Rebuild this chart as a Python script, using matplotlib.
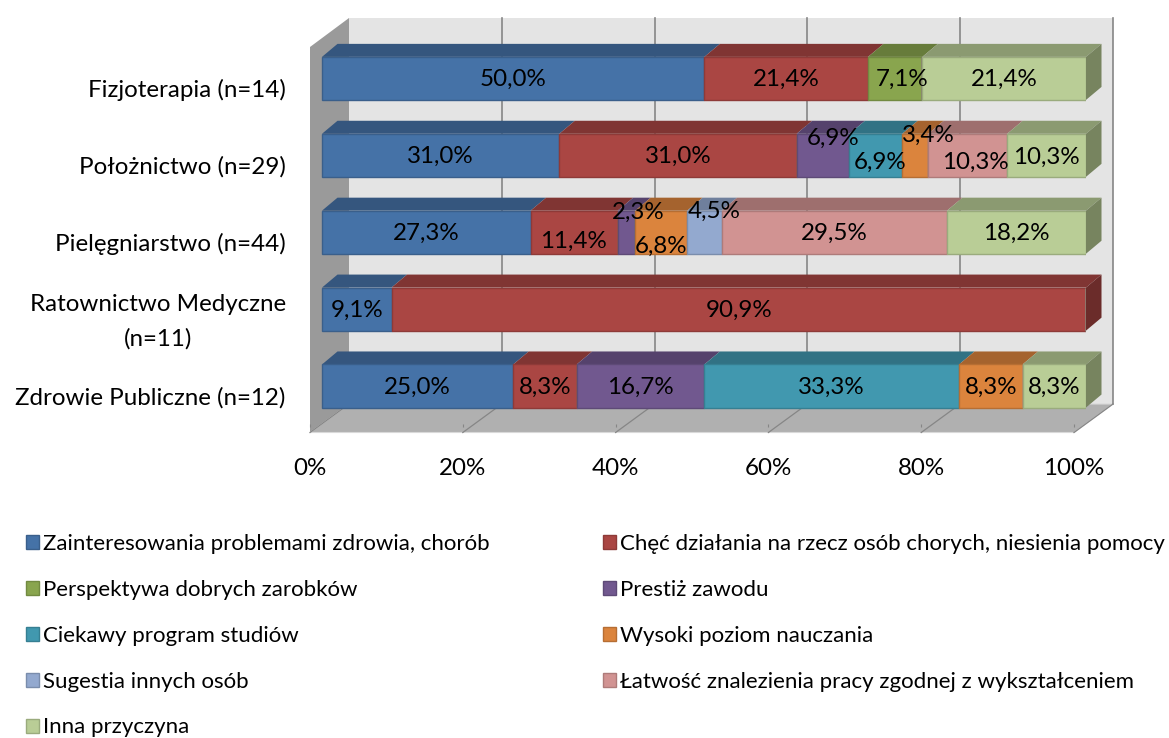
import numpy as np
import matplotlib
matplotlib.use('Agg')
import matplotlib.pyplot as plt

plt.rcParams['font.family'] = ['Lato', 'DejaVu Sans']

# dane, kolejnosc wierszy od gory
categories = ['Fizjoterapia (n=14)', 'Położnictwo (n=29)', 'Pielęgniarstwo (n=44)',
              'Ratownictwo Medyczne\n(n=11)', 'Zdrowie Publiczne (n=12)']
series_names = ['Zainteresowania problemami zdrowia, chorób',
                'Chęć działania na rzecz osób chorych, niesienia pomocy',
                'Perspektywa dobrych zarobków',
                'Prestiż zawodu',
                'Ciekawy program studiów',
                'Wysoki poziom nauczania',
                'Sugestia innych osób',
                'Łatwość znalezienia pracy zgodnej z wykształceniem',
                'Inna przyczyna']
zainteresowania = [50.0, 31.0, 27.3, 9.1, 25.0]
chec_dzialania = [21.4, 31.0, 11.4, 90.9, 8.3]
zarobki = [7.1, 0, 0, 0, 0]
prestiz = [0, 6.9, 2.3, 0, 16.7]
program = [0, 6.9, 0, 0, 33.3]
nauczanie = [0, 3.4, 6.8, 0, 8.3]
sugestia = [0, 0, 4.5, 0, 0]
latwosc = [0, 10.3, 29.5, 0, 0]
inna = [21.4, 10.3, 18.2, 0, 8.3]
x_ticks = [0, 20, 40, 60, 80, 100]

front_colors = ['#4572A7', '#AA4643', '#89A54E', '#71588F', '#4198AF', '#DB843D', '#93A9CF', '#D19392', '#B9CD96']
edge_colors = ['#3A5F8B', '#8E3A38', '#728A41', '#5E4A77', '#367F92', '#B66E33', '#7A8DAC', '#AE7B7A', '#9AAB7D']
top_colors = ['#35567E', '#803533', '#677C3B', '#55426C', '#317284', '#A5632E', '#6F7F9C', '#9E6F6E', '#8B9A71']
side_colors = ['#2D4769', '#6B2C2A', '#566832', '#47375A', '#295F6E', '#8A5327', '#5D6A82', '#845D5C', '#77845F']

# przesuniecia recznie ustawionych etykiet (px)
label_shift = {(0, 2): (7, 0), (1, 3): (10, -18), (1, 4): (4, 6), (1, 5): (13, -21), (1, 7): (8, 6), (1, 8): (0, 1),
               (2, 1): (-1, 8), (2, 3): (12, -21), (2, 5): (0, 13), (2, 6): (10, -22)}
# przesuniecie podpisow osi Y wzgledem slupkow
ylabel_shift = [-0.13, -0.13, -0.13, -0.06, -0.13]

table = np.array([zainteresowania, chec_dzialania, zarobki, prestiz, program, nauczanie, sugestia, latwosc, inna])
shares = table / table.sum(axis=0) * 100
y_pos = np.array([4, 3, 2, 1, 0])

W, H = 1169, 738
PX_X = 7.64
PX_Y = 76.9
bar_h = 0.56
font_big = 17.4
font_legend = 16.0

# os zaczyna sie na przedniej krawedzi podlogi (x=310 px)
fig = plt.figure(figsize=(W / 100, H / 100), dpi=100)
ax = fig.add_axes([310 / W, 1 - 424.45 / H, 776 / W, 384.5 / H])
for s in ax.spines.values():
    s.set_visible(False)
ax.patch.set_visible(False)

# sciany i podloga
x0 = -12 / PX_X
wall_dx = 39 / PX_X
y_front = -46.5 / PX_Y
y_back = -18 / PX_Y
y_top = 368 / PX_Y
y_top_front = 339 / PX_Y
ax.fill([x0 + wall_dx, x0 + wall_dx + 100, x0 + wall_dx + 100, x0 + wall_dx],
        [y_back, y_back, y_top, y_top], color='#E4E4E4', lw=0, clip_on=False, zorder=0)
ax.fill([x0, x0 + wall_dx, x0 + wall_dx, x0], [y_front, y_back, y_top, y_top_front],
        color='#9A9A9A', lw=0, clip_on=False, zorder=0)
ax.fill([x0, x0 + 100, x0 + 100 + wall_dx, x0 + wall_dx], [y_front, y_front, y_back, y_back],
        color='#B0B0B0', ec='#D9D9D9', lw=0.8, clip_on=False, zorder=0.5)
for v in x_ticks:
    if v > 0:
        ax.plot([x0 + wall_dx + v] * 2, [y_back, y_top], color='#868686', lw=1.2, clip_on=False, zorder=1)
    ax.plot([x0 + v, x0 + wall_dx + v], [y_front, y_back], color='#868686', lw=0.9, clip_on=False, zorder=1)

# slupki z glebia
depth_x = 15.5 / PX_X
depth_y = 13 / PX_Y
handles = []
left = np.zeros(len(categories))
for i, name in enumerate(series_names):
    bars = ax.barh(y_pos, shares[i], left=left, height=bar_h, color=front_colors[i],
                   edgecolor=edge_colors[i], linewidth=1.0, label=name, zorder=3)
    handles.append(bars)
    for j in range(len(categories)):
        if shares[i][j] == 0:
            continue
        a = left[j]
        b = left[j] + shares[i][j]
        top = y_pos[j] + bar_h / 2
        ax.fill([a, b, b + depth_x, a + depth_x], [top, top, top + depth_y, top + depth_y],
                color=top_colors[i], lw=0, clip_on=False, zorder=2.5)
        if b > 99.9:
            low = y_pos[j] - bar_h / 2
            ax.fill([b, b + depth_x, b + depth_x, b], [low, low + depth_y, top + depth_y, top],
                    color=side_colors[i], lw=0, clip_on=False, zorder=2.5)
    left = left + shares[i]

# etykiety danych
left = np.zeros(len(categories))
for i in range(len(series_names)):
    for j in range(len(categories)):
        if table[i][j] == 0:
            continue
        dx, dy = label_shift.get((j, i), (0, 0))
        ax.text(left[j] + shares[i][j] / 2 + dx / PX_X, y_pos[j] - (dy + 1) / PX_Y,
                ('%.1f%%' % table[i][j]).replace('.', ','),
                ha='center', va='center', fontsize=font_big, color='black', zorder=6, clip_on=False)
    left = left + shares[i]

ax.set_xticks([x0 + v for v in x_ticks], ['%d%%' % v for v in x_ticks], fontsize=font_big)
ax.tick_params(axis='x', length=2, color='#868686', pad=22)
ax.set_yticks(y_pos + np.array(ylabel_shift), categories, fontsize=font_big, multialignment='center', linespacing=1.7)
ax.tick_params(axis='y', length=0, pad=17.5)
ax.set_xlim(x0, 100)
ax.set_ylim(-0.5, 4.5)

order = [0, 2, 4, 6, 8, 1, 3, 5, 7]
fig.legend([handles[k] for k in order], [series_names[k] for k in order], ncol=2,
           loc='upper left', bbox_to_anchor=(17 / W, 1 - 525 / H), frameon=False, fontsize=font_legend,
           handlelength=0.58, handleheight=0.58, handletextpad=0.18, labelspacing=1.165,
           columnspacing=5.12, borderpad=0.4, borderaxespad=0)

fig.savefig('out.png', dpi=100)
